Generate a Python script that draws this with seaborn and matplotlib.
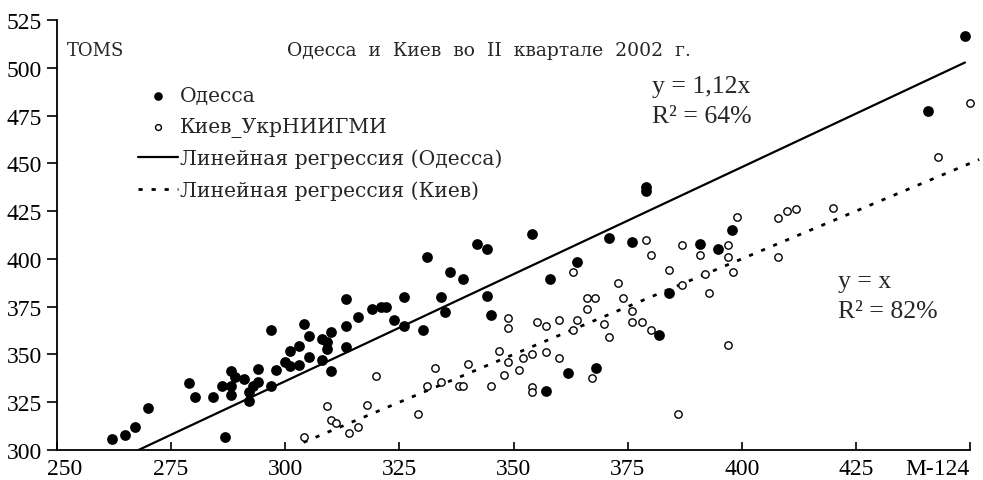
import numpy as np
import matplotlib
matplotlib.use("Agg")
import matplotlib.pyplot as plt
import matplotlib.transforms as mtransforms
import seaborn as sns

# Одесса (TOMS vs M-124)
odessa_x = [262.0, 265.0, 267.1, 270.0, 279.0, 280.2, 284.1, 286.1, 286.9, 288.1,
            288.1, 288.1, 289.0, 291.0, 292.0, 292.1, 292.9, 294.0, 294.1, 296.9,
            296.9, 298.0, 300.0, 301.1, 301.1, 303.1, 303.1, 304.0, 305.1, 305.1,
            308.0, 308.0, 309.1, 309.1, 310.0, 310.0, 313.2, 313.2, 313.2, 315.9,
            319.0, 321.0, 322.1, 323.9, 326.1, 326.1, 330.1, 331.0, 334.1, 335.0,
            336.1, 339.0, 342.1, 344.1, 344.1, 345.0, 354.1, 357.1, 358.0, 361.9,
            364.0, 368.0, 371.0, 376.0, 379.0, 379.0, 381.9, 384.1, 390.9, 394.9,
            397.9, 440.9, 448.9]
odessa_y = [305.8, 307.8, 312.0, 322.1, 334.9, 327.9, 327.9, 333.6, 307.0, 341.2,
            333.6, 328.8, 338.0, 337.0, 330.4, 325.8, 333.3, 335.7, 342.5, 362.8,
            333.6, 342.0, 346.2, 351.6, 344.1, 354.6, 344.6, 365.9, 359.8, 348.7,
            358.1, 347.1, 356.4, 352.9, 361.9, 341.2, 379.0, 364.7, 353.7, 369.6,
            373.8, 375.0, 375.0, 368.2, 379.9, 365.0, 362.9, 401.0, 379.9, 372.1,
            393.0, 389.5, 407.8, 405.2, 380.7, 370.8, 413.2, 331.0, 389.3, 340.3,
            398.6, 342.7, 410.9, 409.0, 437.5, 435.5, 360.2, 382.0, 407.8, 405.2,
            415.3, 477.2, 516.5]

# Киев_УкрНИИГМИ
kiev_x = [304.0, 309.1, 310.0, 311.2, 314.0, 316.0, 318.0, 319.9, 329.0, 331.0,
          332.9, 334.1, 338.1, 339.0, 340.1, 345.0, 346.9, 348.0, 348.9, 348.9,
          348.9, 351.1, 352.1, 354.1, 354.1, 354.1, 355.1, 357.1, 357.1, 360.0,
          360.0, 363.1, 363.1, 364.0, 366.0, 366.0, 367.9, 367.1, 369.9, 371.0,
          373.0, 373.9, 376.0, 376.0, 378.1, 379.0, 380.1, 380.1, 384.1, 386.9,
          386.9, 386.1, 390.9, 392.0, 392.9, 396.9, 396.9, 396.9, 398.0, 398.9,
          408.0, 408.0, 409.9, 411.9, 419.9, 442.9, 450.0]
kiev_y = [306.6, 323.2, 315.7, 314.1, 308.9, 311.9, 323.7, 338.9, 318.8, 333.6,
          342.9, 335.7, 333.6, 333.6, 345.0, 333.6, 351.6, 339.1, 345.9, 369.2,
          364.0, 342.0, 348.0, 350.2, 332.8, 330.2, 367.0, 364.9, 351.1, 368.2,
          348.0, 393.1, 363.0, 368.2, 379.7, 373.9, 379.4, 337.8, 365.9, 359.3,
          387.2, 379.7, 372.9, 367.0, 367.0, 409.7, 402.0, 363.0, 394.0, 407.1,
          386.2, 318.8, 402.0, 391.9, 382.0, 407.1, 400.8, 354.9, 393.0, 422.1,
          421.3, 400.8, 425.2, 426.2, 426.8, 453.3, 481.6]

# регрессия через начало координат
slope_odessa = 1.12
slope_kiev = 1.0

x_ticks = [250, 275, 300, 325, 350, 375, 400, 425, 450]
x_labels = ["250", "275", "300", "325", "350", "375", "400", "425", "M-124"]
y_ticks = [300, 325, 350, 375, 400, 425, 450, 475, 500, 525]

sns.set_style("ticks")
plt.rcParams['font.family'] = ['Liberation Serif', 'DejaVu Serif']
wide = ['DejaVu Serif']

fig = plt.figure(figsize=(9.83, 4.81), dpi=100)
ax = fig.add_axes([57 / 983, 30 / 481, 913 / 983, 430 / 481])

sns.scatterplot(x=odessa_x, y=odessa_y, ax=ax, color='black', s=60,
                edgecolor='black', linewidth=0, label='Одесса', clip_on=False, zorder=3)
sns.scatterplot(x=kiev_x, y=kiev_y, ax=ax, facecolor='white', edgecolor='black',
                s=28, linewidth=1.0, label='Киев_УкрНИИГМИ', clip_on=False, zorder=3)

xo = np.array([min(odessa_x), max(odessa_x)])
xk = np.array([min(kiev_x), max(kiev_x) + 2])
sns.lineplot(x=xo, y=slope_odessa * xo, ax=ax, color='black', linewidth=1.6,
             label='Линейная регрессия (Одесса)')
sns.lineplot(x=xk, y=slope_kiev * xk, ax=ax, color='black', linewidth=2.0,
             linestyle=(0, (1.5, 3.2)), label='Линейная регрессия (Киев)', clip_on=False)

ax.set_xlim(250, 450)
ax.set_ylim(300, 525)
ax.set_xticks(x_ticks)
ax.set_xticklabels(x_labels)
ax.set_yticks(y_ticks)
ax.tick_params(axis='x', direction='in', length=6, width=1.2, labelsize=17, pad=6, colors='black')
ax.tick_params(axis='y', direction='out', length=7, width=1.2, labelsize=17, pad=4, colors='black')
xlabs = ax.get_xticklabels()
xlabs[-1].set_ha('right')
xlabs[0].set_transform(xlabs[0].get_transform() +
                       mtransforms.ScaledTranslation(8 / 100, 0, fig.dpi_scale_trans))
sns.despine(ax=ax)
for side in ['left', 'bottom']:
    ax.spines[side].set_linewidth(1.3)
    ax.spines[side].set_color('black')

ax.text(252.2, 509.3, 'TOMS', fontsize=13, va='center', ha='left', family=wide)
ax.text(300.4, 509.3, 'Одесса  и  Киев  во  II  квартале  2002  г.', fontsize=13.5,
        va='center', ha='left', family=wide)
ax.text(380.3, 490.5, 'y = 1,12x', fontsize=18.5, va='center', ha='left')
ax.text(380.3, 475.0, 'R² = 64%', fontsize=18.5, va='center', ha='left')
ax.text(421.1, 388.4, 'y = x', fontsize=18.5, va='center', ha='left')
ax.text(421.1, 372.7, 'R² = 82%', fontsize=18.5, va='center', ha='left')

handles, labels = ax.get_legend_handles_labels()
ax.legend(handles, labels, loc='upper left', bbox_to_anchor=(0.089, 0.846),
          frameon=False, prop={'family': wide, 'size': 14.6}, handlelength=1.97,
          handletextpad=0.1, labelspacing=0.58, borderpad=0, borderaxespad=0,
          markerscale=0.8)

plt.savefig('out.png', dpi=100)
